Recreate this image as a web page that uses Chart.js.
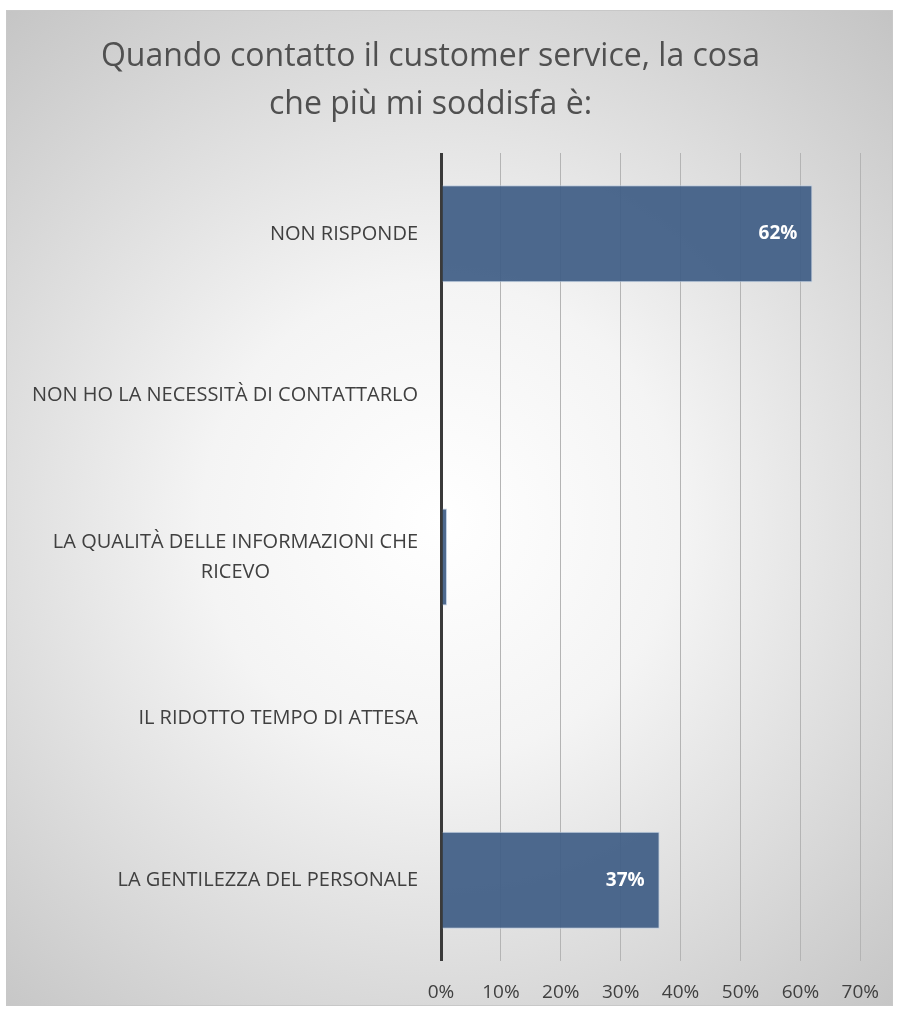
<!DOCTYPE html>
<html>
<head>
<meta charset="utf-8">
<script src="https://cdn.jsdelivr.net/npm/chart.js@4.4.1/dist/chart.umd.min.js"></script>
<style>
  body { margin: 0; background: #ffffff; }
  #chart { display: block; }
</style>
</head>
<body>
<canvas id="chart" width="899" height="1012"></canvas>
<script>
// categories, top to bottom
const categories = [
    "NON RISPONDE",
    "NON HO LA NECESSITÀ DI CONTATTARLO",
    ["LA QUALITÀ DELLE INFORMAZIONI CHE", "RICEVO"],
    "IL RIDOTTO TEMPO DI ATTESA",
    "LA GENTILEZZA DEL PERSONALE"
];
// percentages
const values = [62, 0, 1, 0, 36.5];
const xTicks = [0, 10, 20, 30, 40, 50, 60, 70];
const titleLines = ["Quando contatto il customer service, la cosa", "che più mi soddisfa è:"];

const FONT = "'Open Sans', 'DejaVu Sans', sans-serif";
const TEXT_COLOR = "#404040";

// gradient background + frame
const backgroundPlugin = {
    id: "bgFrame",
    beforeDraw(chart) {
        const ctx = chart.ctx;
        const g = ctx.createRadialGradient(440, 520, 0, 440, 520, 680);
        g.addColorStop(0, "#ffffff");
        g.addColorStop(0.35, "#f4f4f4");
        g.addColorStop(1, "#c4c4c4");
        ctx.save();
        ctx.fillStyle = "#ffffff";
        ctx.fillRect(0, 0, chart.width, chart.height);
        ctx.fillStyle = g;
        ctx.fillRect(6, 10, 887, 996);
        ctx.strokeStyle = "#c8c8c8";
        ctx.lineWidth = 1;
        ctx.strokeRect(6.5, 10.5, 886, 995);
        ctx.restore();
    }
};

// category labels: right-aligned block, lines centred inside it
const categoryLabels = {
    id: "categoryLabels",
    afterDraw(chart) {
        const ctx = chart.ctx;
        const y = chart.scales.y;
        const right = chart.chartArea.left - 23;
        ctx.save();
        ctx.font = "20px " + FONT;
        ctx.fillStyle = TEXT_COLOR;
        ctx.textBaseline = "middle";
        ctx.textAlign = "center";
        categories.forEach((label, i) => {
            const lines = Array.isArray(label) ? label : [label];
            const widest = Math.max(...lines.map(l => ctx.measureText(l).width));
            const cx = right - widest / 2;
            const cy = y.getPixelForValue(i);
            const lh = 30;
            lines.forEach((l, k) => {
                ctx.fillText(l, cx, cy + (k - (lines.length - 1) / 2) * lh);
            });
        });
        ctx.restore();
    }
};

// value labels inside bar end
const valueLabels = {
    id: "valueLabels",
    afterDatasetsDraw(chart) {
        const ctx = chart.ctx;
        const meta = chart.getDatasetMeta(0);
        ctx.save();
        ctx.font = "bold 19px " + FONT;
        ctx.fillStyle = "#ffffff";
        ctx.textAlign = "right";
        ctx.textBaseline = "middle";
        meta.data.forEach((bar, i) => {
            if (values[i] < 5) return;
            ctx.fillText(Math.round(values[i]) + "%", bar.x - 15, bar.y);
        });
        ctx.restore();
    }
};

const ctx = document.getElementById("chart").getContext("2d");
new Chart(ctx, {
    type: "bar",
    data: {
        labels: categories,
        datasets: [{
            data: values,
            backgroundColor: "rgba(64, 94, 133, 0.93)",
            borderColor: "rgba(190, 205, 225, 0.9)",
            borderWidth: 1,
            borderSkipped: "left",
            categoryPercentage: 1,
            barPercentage: 0.6
        }]
    },
    options: {
        indexAxis: "y",
        responsive: false,
        animation: false,
        layout: { padding: { top: 10, right: 38, bottom: 0, left: 0 } },
        plugins: {
            legend: { display: false },
            tooltip: { enabled: false },
            title: {
                display: true,
                text: titleLines,
                color: "#505050",
                font: { family: FONT, size: 32, weight: "normal", lineHeight: 1.5 },
                padding: { top: 23, bottom: 24 }
            }
        },
        scales: {
            x: {
                min: 0,
                max: 70,
                afterBuildTicks(scale) {
                    scale.ticks = xTicks.map(v => ({ value: v }));
                },
                afterFit(scale) { scale.height = 51; },
                border: { display: false },
                grid: {
                    drawTicks: false,
                    color: c => c.tick && c.tick.value === 0 ? "#3a3a3a" : "#b4b4b4",
                    lineWidth: c => c.tick && c.tick.value === 0 ? 3 : 1
                },
                ticks: {
                    padding: 20,
                    color: TEXT_COLOR,
                    font: { family: FONT, size: 19 },
                    callback: v => v + "%"
                }
            },
            y: {
                afterFit(scale) { scale.width = 441; },
                border: { display: false },
                grid: { display: false },
                ticks: { display: false }
            }
        }
    },
    plugins: [backgroundPlugin, categoryLabels, valueLabels]
});
</script>
</body>
</html>
